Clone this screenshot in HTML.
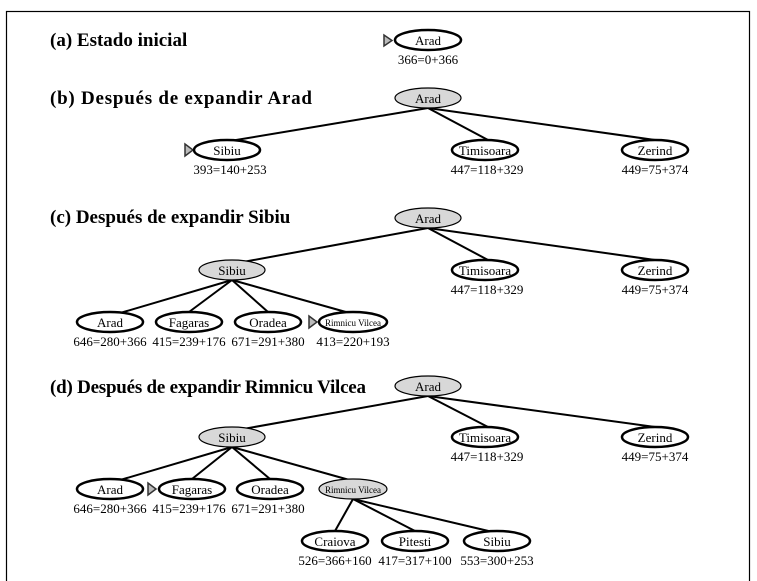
<!DOCTYPE html>
<html><head><style>
body{margin:0;background:#fff}
svg{display:block}
text{font-family:"Liberation Serif",serif}
.t{font-weight:bold;font-size:19px}
.n{font-size:13px;text-anchor:middle}
.l{font-size:13px;text-anchor:middle}
ellipse{stroke:#000;stroke-width:2.5;fill:#fff}
ellipse.g{fill:#d8d8d8;stroke-width:1.2}
line{stroke:#000;stroke-width:2}
polygon{fill:#bbb;stroke:#333;stroke-width:1.5}
</style></head><body>
<svg width="757" height="581" viewBox="0 0 757 581">
<rect x="6.5" y="11.5" width="743" height="580" fill="none" stroke="#000" stroke-width="1.2"/>

<text class="t" x="50" y="46">(a) Estado inicial</text>
<polygon points="384,35 384,46 392,40.5"/>
<ellipse cx="428" cy="40" rx="33" ry="10"/><text class="n" x="428" y="45">Arad</text>
<text class="l" x="428" y="64">366=0+366</text>

<text class="t" x="50" y="104" textLength="262">(b) Después de expandir Arad</text>
<line x1="428" y1="108" x2="230" y2="141"/><line x1="428" y1="108" x2="488" y2="140"/><line x1="428" y1="108" x2="655" y2="140"/>
<ellipse class="g" cx="428" cy="98" rx="33" ry="10"/><text class="n" x="428" y="103">Arad</text>
<polygon points="185,144 185,156 193,150"/>
<ellipse cx="227" cy="150" rx="33" ry="10"/><text class="n" x="227" y="155">Sibiu</text>
<ellipse cx="485" cy="150" rx="33" ry="10"/><text class="n" x="485" y="155">Timisoara</text>
<ellipse cx="655" cy="150" rx="33" ry="10"/><text class="n" x="655" y="155">Zerind</text>
<text class="l" x="230" y="174">393=140+253</text>
<text class="l" x="487" y="174">447=118+329</text>
<text class="l" x="655" y="174">449=75+374</text>

<text class="t" x="50" y="223">(c) Después de expandir Sibiu</text>
<line x1="428" y1="228" x2="232" y2="264"/><line x1="428" y1="228" x2="488" y2="260"/><line x1="428" y1="228" x2="655" y2="260"/>
<line x1="232" y1="280" x2="110" y2="316"/><line x1="232" y1="280" x2="189" y2="312"/><line x1="232" y1="280" x2="268" y2="312"/><line x1="232" y1="280" x2="353" y2="314"/>
<ellipse class="g" cx="428" cy="218" rx="33" ry="10"/><text class="n" x="428" y="223">Arad</text>
<ellipse class="g" cx="232" cy="270" rx="33" ry="10"/><text class="n" x="232" y="275">Sibiu</text>
<ellipse cx="485" cy="270" rx="33" ry="10"/><text class="n" x="485" y="275">Timisoara</text>
<ellipse cx="655" cy="270" rx="33" ry="10"/><text class="n" x="655" y="275">Zerind</text>
<text class="l" x="487" y="294">447=118+329</text>
<text class="l" x="655" y="294">449=75+374</text>
<ellipse cx="110" cy="322" rx="33" ry="10"/><text class="n" x="110" y="327">Arad</text>
<ellipse cx="189" cy="322" rx="33" ry="10"/><text class="n" x="189" y="327">Fagaras</text>
<ellipse cx="268" cy="322" rx="33" ry="10"/><text class="n" x="268" y="327">Oradea</text>
<polygon points="309,316 309,328 317,322"/>
<ellipse cx="353" cy="322" rx="34" ry="10"/><text class="n" x="353" y="326" style="font-size:9px">Rimnicu Vilcea</text>
<text class="l" x="110" y="346">646=280+366</text>
<text class="l" x="189" y="346">415=239+176</text>
<text class="l" x="268" y="346">671=291+380</text>
<text class="l" x="353" y="346">413=220+193</text>

<text class="t" x="50" y="393" textLength="316">(d) Después de expandir Rimnicu Vilcea</text>
<line x1="428" y1="396" x2="232" y2="431"/><line x1="428" y1="396" x2="488" y2="427"/><line x1="428" y1="396" x2="655" y2="427"/>
<line x1="232" y1="447" x2="110" y2="483"/><line x1="232" y1="447" x2="192" y2="479"/><line x1="232" y1="447" x2="270" y2="479"/><line x1="232" y1="447" x2="353" y2="481"/>
<line x1="353" y1="499" x2="335" y2="531"/><line x1="353" y1="499" x2="415" y2="531"/><line x1="353" y1="499" x2="497" y2="533"/>
<ellipse class="g" cx="428" cy="386" rx="33" ry="10"/><text class="n" x="428" y="391">Arad</text>
<ellipse class="g" cx="232" cy="437" rx="33" ry="10"/><text class="n" x="232" y="442">Sibiu</text>
<ellipse cx="485" cy="437" rx="33" ry="10"/><text class="n" x="485" y="442">Timisoara</text>
<ellipse cx="655" cy="437" rx="33" ry="10"/><text class="n" x="655" y="442">Zerind</text>
<text class="l" x="487" y="461">447=118+329</text>
<text class="l" x="655" y="461">449=75+374</text>
<ellipse cx="110" cy="489" rx="33" ry="10"/><text class="n" x="110" y="494">Arad</text>
<polygon points="148,483 148,495 156,489"/>
<ellipse cx="192" cy="489" rx="33" ry="10"/><text class="n" x="192" y="494">Fagaras</text>
<ellipse cx="270" cy="489" rx="33" ry="10"/><text class="n" x="270" y="494">Oradea</text>
<ellipse class="g" cx="353" cy="489" rx="34" ry="10"/><text class="n" x="353" y="493" style="font-size:9px">Rimnicu Vilcea</text>
<text class="l" x="110" y="513">646=280+366</text>
<text class="l" x="189" y="513">415=239+176</text>
<text class="l" x="268" y="513">671=291+380</text>
<ellipse cx="335" cy="541" rx="33" ry="10"/><text class="n" x="335" y="546">Craiova</text>
<ellipse cx="415" cy="541" rx="33" ry="10"/><text class="n" x="415" y="546">Pitesti</text>
<ellipse cx="497" cy="541" rx="33" ry="10"/><text class="n" x="497" y="546">Sibiu</text>
<text class="l" x="335" y="565">526=366+160</text>
<text class="l" x="415" y="565">417=317+100</text>
<text class="l" x="497" y="565">553=300+253</text>
</svg>
</body></html>
